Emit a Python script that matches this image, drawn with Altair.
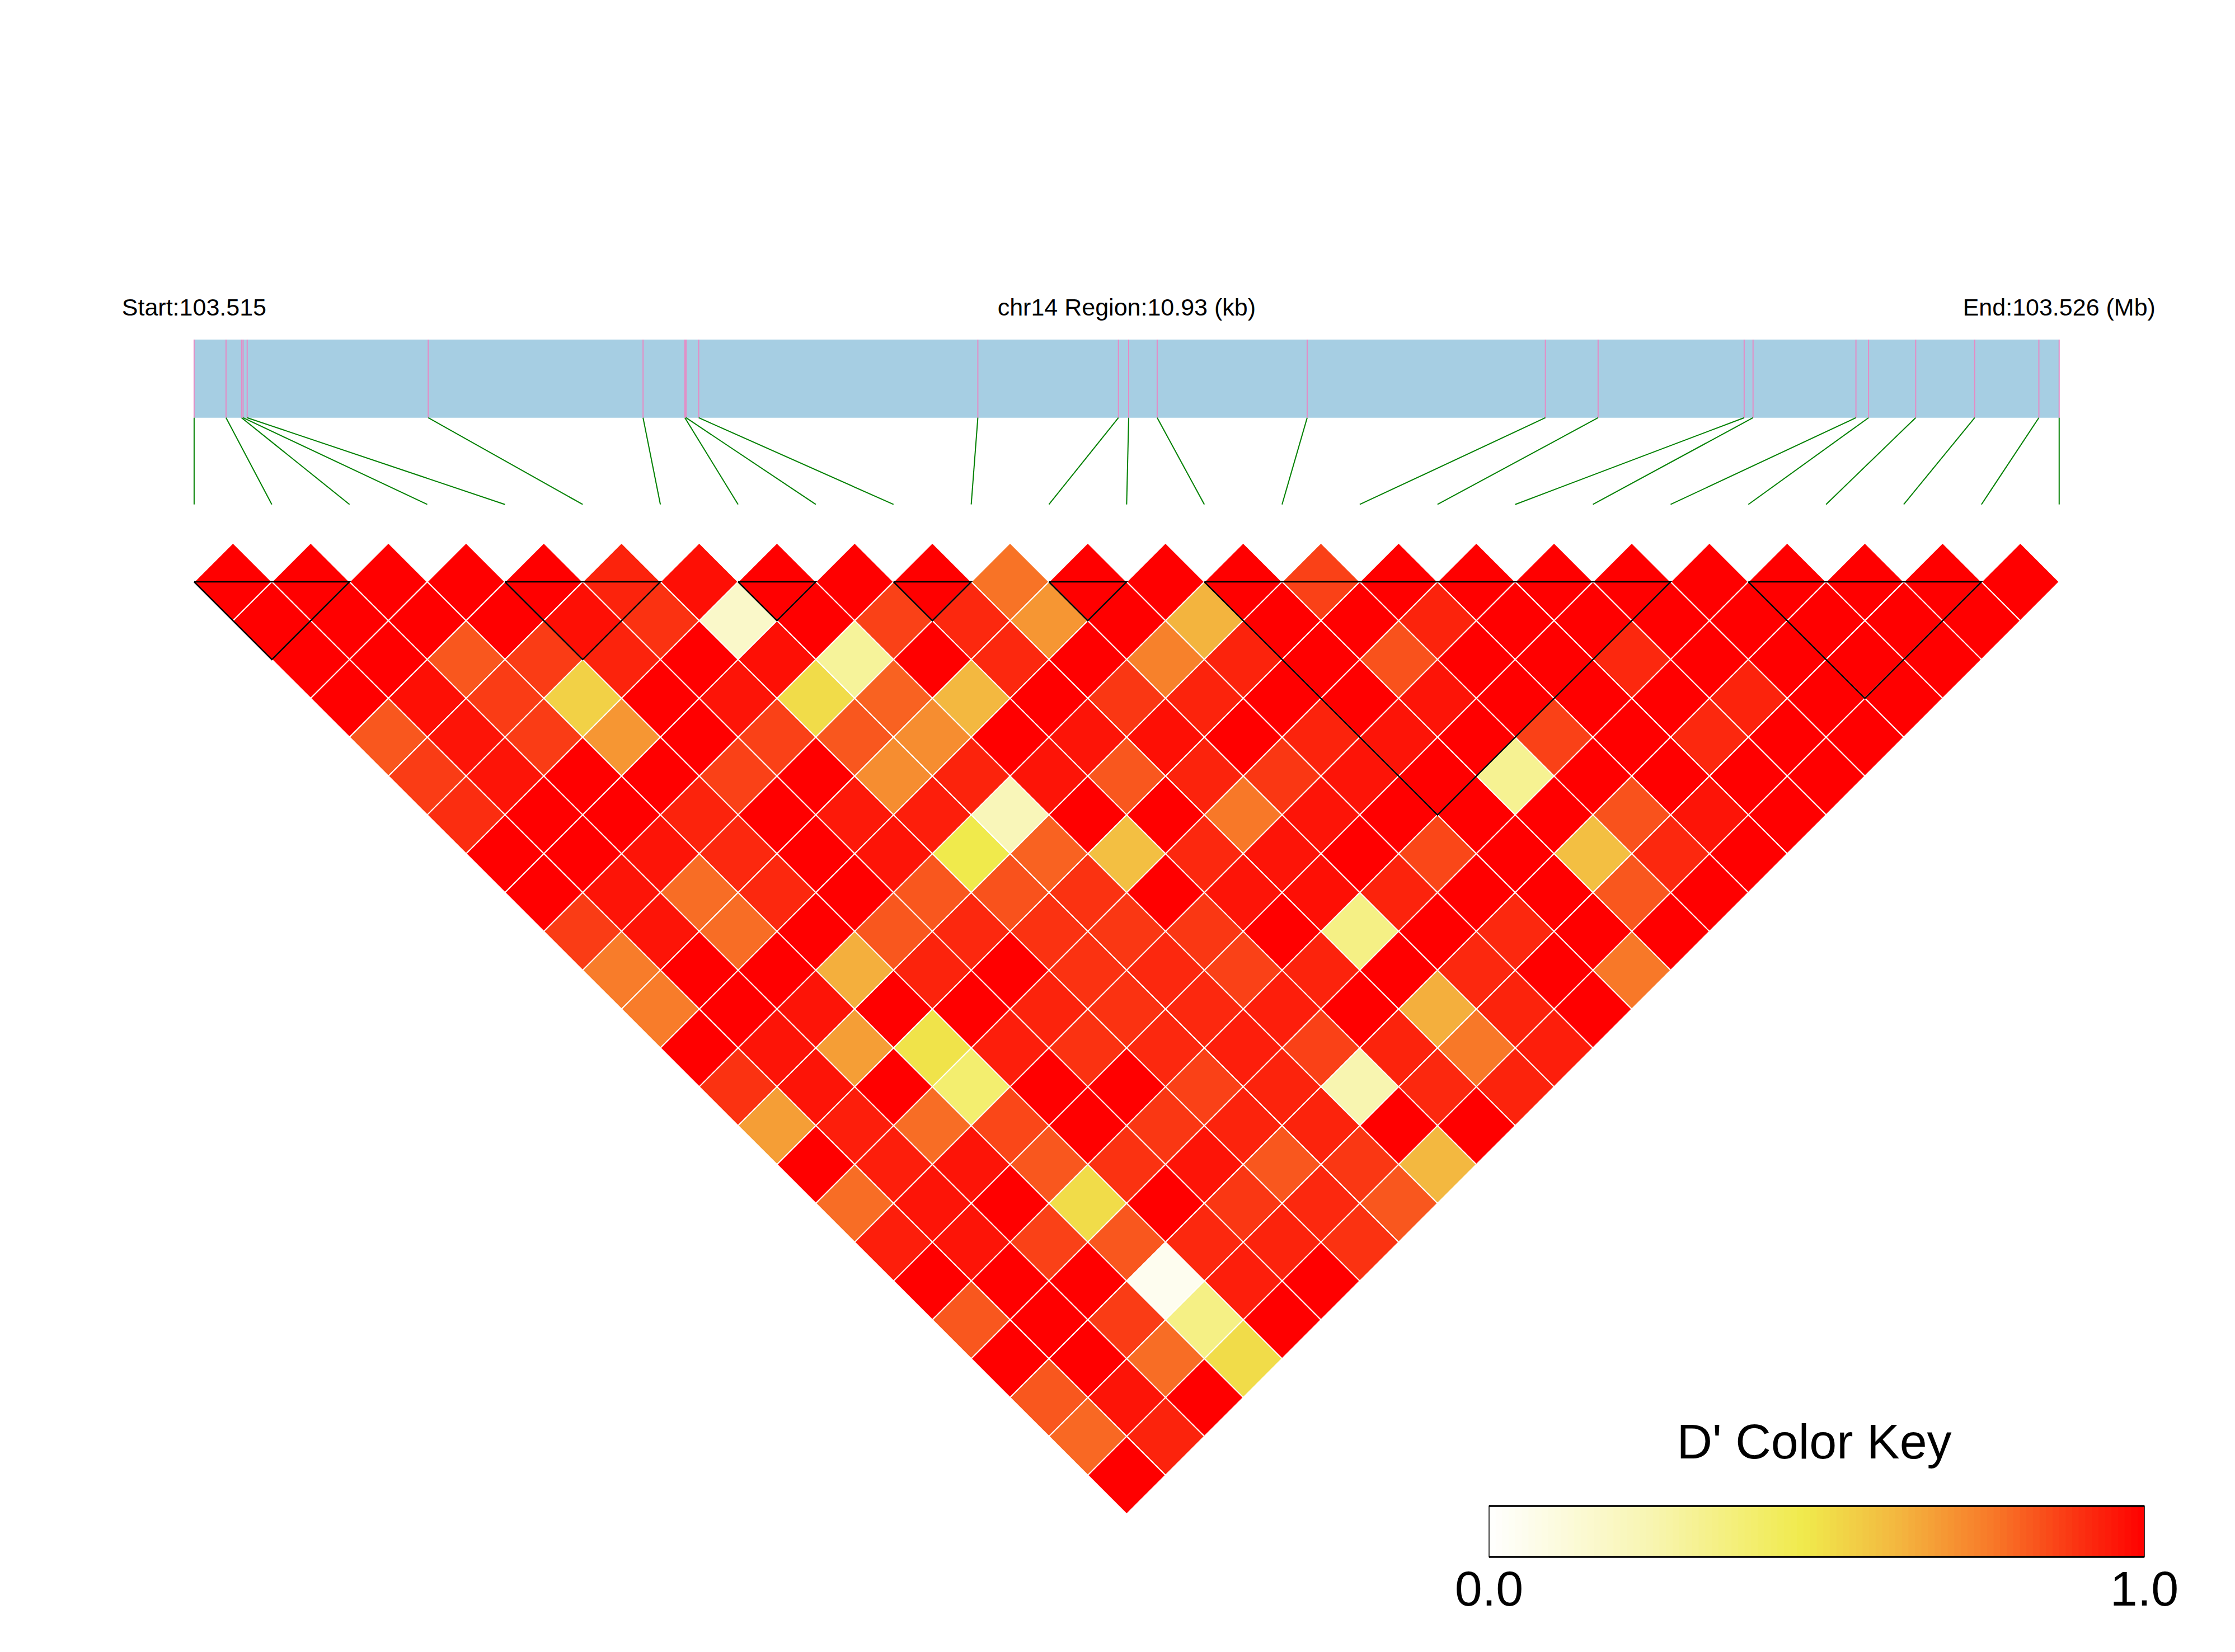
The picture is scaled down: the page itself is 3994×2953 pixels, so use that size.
import altair as alt
import pandas as pd

# ---------------- data ----------------
snp_positions = [103515100, 103515287, 103515378, 103515387, 103515411, 103516472,
                 103517731, 103517976, 103517983, 103518057, 103519693, 103520517,
                 103520577, 103520744, 103521623, 103523019, 103523328, 103524184,
                 103524236, 103524839, 103524913, 103525189, 103525535, 103525911,
                 103526030]

# D' values by diagonal offset d = j - i (list index = i)
d01 = [1, 1, 1, 1, 1, 0.93, 0.97, 1, 1, 1, 0.78, 1, 1, 1, 0.87, 1, 1, 1, 1, 1, 1, 1, 1, 1]
d02 = [1, 1, 1, 1, 0.97, 0.9, 0.17, 1, 0.87, 0.92, 0.7, 1, 0.63, 1, 1, 0.93, 1, 1, 1, 1, 1, 1, 1]
d03 = [1, 1, 0.83, 0.88, 0.93, 1, 0.97, 0.3, 1, 0.92, 1, 0.75, 0.93, 1, 0.84, 1, 1, 0.92, 1, 1, 1, 1]
d04 = [1, 0.97, 0.88, 0.55, 1, 0.96, 0.52, 0.81, 0.62, 1, 0.89, 0.93, 1, 1, 0.96, 1, 1, 1, 0.93, 1, 1]
d05 = [0.83, 0.96, 0.88, 0.7, 1, 0.87, 0.83, 0.72, 1, 0.96, 0.97, 1, 0.93, 0.96, 1, 0.87, 1, 0.92, 1, 1]
d06 = [0.88, 0.96, 1, 1, 0.87, 1, 0.72, 0.93, 0.96, 0.83, 0.93, 0.89, 0.96, 1, 0.32, 1, 1, 1, 1]
d07 = [0.91, 1, 1, 0.93, 1, 0.95, 0.94, 0.22, 1, 1, 0.77, 0.96, 1, 1, 1, 0.84, 0.96, 1]
d08 = [1, 1, 0.96, 0.92, 1, 0.96, 0.48, 0.81, 0.6, 0.92, 0.96, 1, 0.86, 1, 0.6, 0.92, 1]
d09 = [1, 0.96, 0.79, 0.92, 1, 0.83, 0.84, 0.9, 1, 0.96, 0.97, 0.93, 1, 1, 0.83, 1]
d10 = [0.88, 0.96, 0.79, 1, 0.83, 0.92, 0.9, 0.89, 0.89, 1, 0.35, 1, 0.92, 1, 1]
d11 = [0.76, 1, 1, 0.64, 0.93, 1, 0.9, 0.92, 0.87, 0.93, 1, 0.92, 1, 0.77]
d12 = [0.76, 1, 0.96, 1, 1, 0.93, 0.9, 0.92, 0.94, 1, 0.64, 0.93, 1]
d13 = [1, 0.96, 0.68, 0.5, 0.94, 0.9, 0.92, 0.94, 0.87, 0.93, 0.77, 0.94]
d14 = [0.9, 0.96, 1, 0.4, 1, 1, 0.87, 0.93, 0.25, 0.92, 0.93]
d15 = [0.68, 0.94, 0.79, 0.86, 1, 0.89, 0.93, 0.93, 1, 1]
d16 = [1, 0.94, 0.96, 0.83, 0.9, 0.96, 0.83, 0.89, 0.62]
d17 = [0.79, 0.96, 1, 0.52, 1, 0.89, 0.92, 0.83]
d18 = [0.94, 0.96, 0.87, 0.83, 0.92, 0.93, 0.9]
d19 = [1, 1, 1, 0.05, 0.94, 1]
d20 = [0.83, 1, 0.88, 0.35, 1]
d21 = [1, 1, 0.79, 0.52]
d22 = [0.83, 0.96, 1]
d23 = [0.8, 0.93]
d24 = [1]
diagonals = [d01, d02, d03, d04, d05, d06, d07, d08, d09, d10, d11, d12,
             d13, d14, d15, d16, d17, d18, d19, d20, d21, d22, d23, d24]

block_starts = [0, 4, 7, 9, 11, 13, 20]
block_ends = [2, 6, 8, 10, 12, 19, 23]

start_label = "Start:103.515"
region_label = "chr14 Region:10.93 (kb)"
end_label = "End:103.526 (Mb)"
key_title = "D' Color Key"
key_ticks = [0.0, 1.0]
key_tick_labels = ["0.0", "1.0"]

# ---------------- layout ----------------
W, H = 3970, 2930
PX = 138.87          # pixels per SNP step
X0_PAGE = 346.9      # page x of SNP 0
Y0_PAGE = 1040.0     # page y of first-row diamond centres


def xu(p):
    return (p - X0_PAGE) / PX


def yu(p):
    return (p - Y0_PAGE) / PX


xs = alt.Scale(domain=[xu(8), xu(8 + W)], nice=False, zero=False)
ys = alt.Scale(domain=[yu(8), yu(8 + H)], nice=False, zero=False, reverse=True)
cs = alt.Scale(domain=[0, 0.25, 0.48, 0.62, 0.77, 0.88, 1.0],
               range=["#FFFFFF", "#F8F5B0", "#F0EA4C", "#F3B840", "#F87828", "#FA3C15", "#FF0000"],
               interpolate="rgb")

n = len(snp_positions)
p0, p1 = snp_positions[0], snp_positions[-1]
phys = [(p - p0) / (p1 - p0) * (n - 1) for p in snp_positions]

# cells
rows = []
for d, vals in enumerate(diagonals, start=1):
    for i, v in enumerate(vals):
        j = i + d
        rows.append({"x": (i + j) / 2, "y": (d - 1) / 2, "D": v})
cells = pd.DataFrame(rows)

# blocks
brow = []
for b, (a, e) in enumerate(zip(block_starts, block_ends)):
    pts = [(a, 0), (e, 0), ((a + e) / 2, (e - a) / 2), (a, 0)]
    for k, (x, y) in enumerate(pts):
        brow.append({"block": b, "ord": k, "x": x, "y": y})
blocks = pd.DataFrame(brow)

BAR_TOP, BAR_BOT = yu(607), yu(746.7)
LINK_BOT = yu(901.7)

bar = pd.DataFrame([{"x": phys[0], "x2": phys[-1], "y": BAR_TOP, "y2": BAR_BOT}])
ticks = pd.DataFrame({"x": phys, "y": BAR_TOP, "y2": BAR_BOT})
lrow = []
for k, px in enumerate(phys):
    lrow.append({"snp": k, "ord": 0, "x": px, "y": BAR_BOT})
    lrow.append({"snp": k, "ord": 1, "x": float(k), "y": LINK_BOT})
links = pd.DataFrame(lrow)

labels = pd.DataFrame({"label": [start_label, region_label, end_label],
                       "x": [phys[0], (phys[0] + phys[-1]) / 2, phys[-1]],
                       "y": yu(564)})

# colour key
KL, KR = xu(2661), xu(3832)
KT, KB = yu(2692), yu(2783)
NSTEP = 100
krow = []
for k in range(NSTEP):
    v0 = k / NSTEP
    v1 = (k + 1) / NSTEP
    krow.append({"x": KL + v0 * (KR - KL), "x2": KL + min(v1 + 0.002, 1) * (KR - KL),
                 "y": KT, "y2": KB, "D": (k + 0.5) / NSTEP})
keydf = pd.DataFrame(krow)
keybox = pd.DataFrame([{"x": KL, "x2": KR, "y": KT, "y2": KB}])
keyedges = pd.DataFrame({"x": [KL, KL], "x2": [KR, KR], "y": [KT, KB]})
keytitle = pd.DataFrame({"label": [key_title], "x": [xu(3242)], "y": [yu(2607)]})
keylabs = pd.DataFrame({"label": key_tick_labels,
                        "x": [KL + t * (KR - KL) for t in key_ticks],
                        "y": yu(2870)})

X = lambda f="x": alt.X(f"{f}:Q", scale=xs, axis=None)
Y = lambda f="y": alt.Y(f"{f}:Q", scale=ys, axis=None)
FONT = "Liberation Sans"

diamonds = alt.Chart(cells).mark_point(
    shape="M0,-1L1,0L0,1L-1,0Z", filled=True, size=PX * PX,
    stroke="white", strokeWidth=2, opacity=1, fillOpacity=1, strokeOpacity=1
).encode(x=X(), y=Y(), fill=alt.Fill("D:Q", scale=cs, legend=None))

block_lines = alt.Chart(blocks).mark_line(color="black", strokeWidth=2.5).encode(
    x=X(), y=Y(), detail="block:N", order="ord:Q")

bar_layer = alt.Chart(bar).mark_rect(color="#A6CEE3").encode(
    x=X(), x2="x2:Q", y=Y(), y2="y2:Q")

tick_layer = alt.Chart(ticks).mark_rule(color="#E58BC5", strokeWidth=2).encode(
    x=X(), y=Y(), y2="y2:Q")

link_layer = alt.Chart(links).mark_line(color="#008000", strokeWidth=2).encode(
    x=X(), y=Y(), detail="snp:N", order="ord:Q")

label_layer = alt.Chart(labels).mark_text(
    font=FONT, fontSize=43, color="black", align="center", baseline="alphabetic"
).encode(x=X(), y=Y(), text="label:N")

key_layer = alt.Chart(keydf).mark_rect(strokeWidth=0).encode(
    x=X(), x2="x2:Q", y=Y(), y2="y2:Q", color=alt.Color("D:Q", scale=cs, legend=None))

keybox_layer = alt.Chart(keybox).mark_rect(fillOpacity=0, stroke="black", strokeWidth=1.5).encode(
    x=X(), x2="x2:Q", y=Y(), y2="y2:Q")

keyedge_layer = alt.Chart(keyedges).mark_rule(color="black", strokeWidth=3.5).encode(
    x=X(), x2="x2:Q", y=Y())

keytitle_layer = alt.Chart(keytitle).mark_text(
    font=FONT, fontSize=88, color="black", align="center", baseline="alphabetic"
).encode(x=X(), y=Y(), text="label:N")

keylab_layer = alt.Chart(keylabs).mark_text(
    font=FONT, fontSize=88, color="black", align="center", baseline="alphabetic"
).encode(x=X(), y=Y(), text="label:N")

chart = alt.layer(
    bar_layer, tick_layer, link_layer, label_layer,
    diamonds, block_lines,
    key_layer, keybox_layer, keyedge_layer, keytitle_layer, keylab_layer
).properties(
    width=W, height=H, padding=0,
    autosize=alt.AutoSizeParams(type="none"),
    background="white"
).configure_view(stroke=None).resolve_scale(color="shared")

chart.save("out.html", embed_options={"renderer": "svg", "actions": False})
